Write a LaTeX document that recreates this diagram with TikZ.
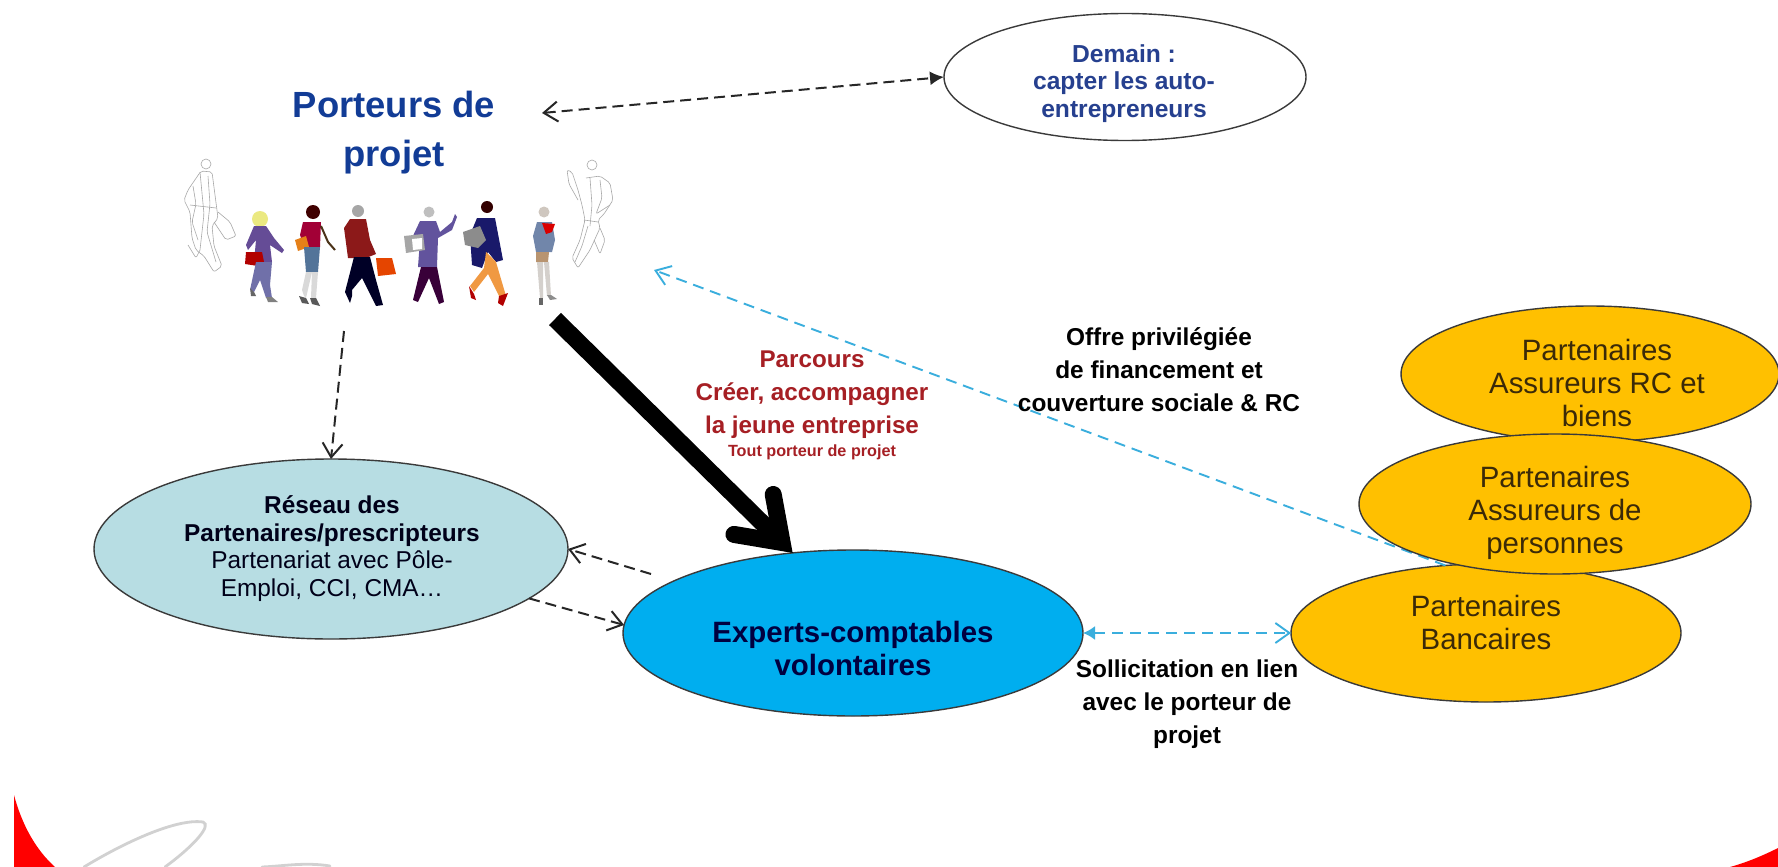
\documentclass[tikz,border=0pt]{standalone}
\usepackage{fontspec}
\setmainfont{Liberation Sans}
\usetikzlibrary{arrows.meta,shapes.geometric}
\definecolor{orangeF}{HTML}{FFC000}
\definecolor{blueF}{HTML}{00AEEF}
\definecolor{tealF}{HTML}{B7DDE3}
\definecolor{edgeD}{HTML}{3A3A3A}
\definecolor{cyanL}{HTML}{3AAEDD}
\definecolor{titleB}{HTML}{123C96}
\definecolor{demainB}{HTML}{26408F}
\definecolor{redT}{HTML}{A61F24}
\definecolor{brownT}{HTML}{3B2A08}
\definecolor{sketchG}{HTML}{A8A8A8}
\tikzset{
  x=0.5pt,y=-0.5pt,
  oval/.style={ellipse,draw=edgeD,line width=0.7pt,inner sep=0pt,outer sep=0pt},
  lab/.style={anchor=base,align=center,inner sep=0pt,outer sep=0pt},
  f12b/.style={font=\fontsize{12.2}{16.5}\selectfont\bfseries},
  f15/.style={font=\fontsize{14.7}{16.5}\selectfont},
  openTip/.tip={Straight Barb[length=7pt,width=10pt]},
  dashK/.style={draw=black!85,line width=1pt,dash pattern=on 5.5pt off 3pt},
  dashC/.style={draw=cyanL,line width=0.95pt,dash pattern=on 5.5pt off 3.5pt},
  sketch/.style={draw=sketchG,line width=0.3pt,line join=round,rounded corners=1pt},
  heavy/.style={draw=black,line width=8.5pt,
    -{Straight Barb[length=20pt,width=28pt,line cap=round,line join=miter]}},
}
\begin{document}
\begin{tikzpicture}
\useasboundingbox (0,0) rectangle (1778,867);
\fill[white] (0,0) rectangle (1778,867);

% corners of the slide
\fill[red] (14,795) .. controls (22,825) and (36,850) .. (55,867) -- (14,867) -- cycle;
\fill[red] (1730,867) .. controls (1748,862) and (1764,855) .. (1778,848) -- (1778,867) -- cycle;
\draw[black!18,line width=1.4pt,line cap=round] (84,867) .. controls (120,845) and (175,818) .. (203,822) .. controls (212,825) and (195,845) .. (165,867);
\draw[black!18,line width=1.4pt,line cap=round] (262,867) .. controls (285,866) and (305,862) .. (330,866);

% people
\begin{scope}
  % left sketch figure
  \draw[sketch] (206,164) circle[radius=5];
  \draw[sketch] (201,171) -- (188,190) -- (184,200) -- (190,212) -- (192,238) -- (196,250) -- (204,256) -- (214,272) -- (222,266) -- (214,246) -- (212,226) -- (218,218) -- (212,172) -- cycle;
  \draw[sketch] (218,212) -- (230,222) -- (236,236) -- (226,240) -- (214,222);
  \draw[sketch] (200,172) -- (204,214) -- (200,250);
  \draw[sketch] (190,205) -- (216,208);
  \draw[sketch] (193,186) -- (196,204) -- (192,222) -- (198,240);
  \draw[sketch] (208,176) -- (210,204) -- (207,232) -- (216,262);
  \draw[sketch] (188,245) -- (196,258) -- (200,250);
  % blonde woman
  \fill[brown!30!black!20!yellow!50!white] (260,219) circle[radius=8];
  \fill[violet!50!blue!55!black!70] (254,226) -- (266,226) -- (274,238) -- (284,250) -- (282,253) -- (270,245) -- (272,262) -- (254,262) -- (256,240) -- (248,250) -- (246,245) -- cycle;
  \fill[red!70!black] (246,252) -- (262,252) -- (264,262) -- (258,266) -- (245,264) -- cycle;
  \fill[blue!25!gray!90] (256,262) -- (272,262) -- (270,285) -- (272,298) -- (266,298) -- (260,280) -- (254,292) -- (250,290) -- cycle;
  \fill[black!60] (250,288) -- (254,292) -- (256,296) -- (251,296) -- cycle;
  \fill[black!50] (266,297) -- (272,297) -- (278,302) -- (268,302) -- cycle;
  % woman in pink
  \fill[black!75!red] (313,212) circle[radius=7];
  \fill[red!50!violet!85!black] (303,222) -- (321,222) -- (320,247) -- (304,247) -- (300,235) -- cycle;
  \fill[orange!60!brown] (295,240) -- (306,236) -- (309,247) -- (298,251) -- cycle;
  \fill[cyan!60!blue!60!black!90] (304,247) -- (320,247) -- (318,272) -- (306,272) -- cycle;
  \fill[black!15] (306,272) -- (312,272) -- (306,298) -- (304,296) -- (302,290) -- cycle;
  \fill[black!15] (312,272) -- (318,272) -- (316,298) -- (311,298) -- cycle;
  \fill[black!65] (299,296) -- (306,298) -- (309,304) -- (302,303) -- cycle;
  \fill[black!65] (310,298) -- (316,298) -- (320,306) -- (312,304) -- cycle;
  \draw[brown!40!black,line width=1pt] (321,226) -- (328,242) -- (335,250);
  % man in brown
  \fill[black!35] (358,211) circle[radius=6];
  \fill[red!50!black!90] (350,219) -- (366,219) -- (370,240) -- (376,254) -- (366,258) -- (348,258) -- (344,228) -- cycle;
  \fill[black!85!blue] (354,257) -- (370,257) -- (376,280) -- (383,305) -- (376,306) -- (362,278) -- (352,290) -- (352,296) -- (350,303) -- (345,292) -- cycle;
  \fill[orange!60!red!90!black] (376,258) -- (392,258) -- (396,274) -- (378,276) -- cycle;
  % man in purple
  \fill[black!25] (429,212) circle[radius=5.5];
  \fill[violet!35!blue!35!gray] (420,221) -- (436,221) -- (440,232) -- (452,222) -- (455,214) -- (457,217) -- (452,230) -- (438,238) -- (437,267) -- (418,267) -- (420,240) -- (412,238) -- cycle;
  \fill[black!35] (404,236) -- (423,234) -- (425,250) -- (406,253) -- cycle;
  \fill[white] (412,239) -- (422,238) -- (422,249) -- (413,250) -- cycle;
  \fill[black!55!violet] (421,267) -- (437,267) -- (444,302) -- (439,304) -- (429,278) -- (418,302) -- (413,300) -- cycle;
  % man with orange trousers
  \fill[black!80!red] (487,207) circle[radius=6];
  \fill[blue!35!black!90] (477,218) -- (495,218) -- (503,260) -- (496,262) -- (488,252) -- (482,268) -- (472,265) -- (470,235) -- cycle;
  \fill[black!45] (463,232) -- (480,226) -- (486,240) -- (478,248) -- (465,245) -- cycle;
  \fill[orange!70!brown!80!white] (486,252) -- (496,262) -- (506,296) -- (500,298) -- (488,274) -- (474,292) -- (470,286) -- (484,268) -- cycle;
  \fill[red!70!black] (469,286) -- (474,294) -- (476,300) -- (471,298) -- cycle;
  \fill[red!70!black] (499,296) -- (508,293) -- (503,306) -- (498,303) -- cycle;
  % woman in blue
  \fill[orange!25!black!25] (544,212) circle[radius=5.5];
  \fill[cyan!50!blue!60!black!70] (537,222) -- (552,222) -- (555,240) -- (552,252) -- (536,252) -- (533,236) -- cycle;
  \fill[red!85!black] (542,223) -- (555,224) -- (552,232) -- (546,234) -- cycle;
  \fill[brown!80!black!70] (536,252) -- (549,252) -- (548,262) -- (536,262) -- cycle;
  \fill[orange!15!black!20] (537,262) -- (543,262) -- (543,298) -- (540,298) -- cycle;
  \fill[orange!15!black!20] (544,262) -- (549,262) -- (551,296) -- (547,296) -- cycle;
  \fill[black!60] (539,298) -- (543,298) -- (543,305) -- (539,305) -- cycle;
  \fill[black!45] (547,295) -- (551,295) -- (557,299) -- (550,300) -- cycle;
  % right sketch figure
  \draw[sketch] (592,165) circle[radius=5];
  \draw[sketch] (586,178) -- (600,176) -- (610,183) -- (613,200) -- (604,214) -- (598,220) -- (600,228) -- (590,250) -- (578,268) -- (572,258) -- (580,240) -- (585,220) -- (582,205) -- (578,190) -- (572,172) -- (567,170) -- (569,184) -- (578,200);
  \draw[sketch] (600,228) -- (605,240) -- (600,254) -- (594,240);
  \draw[sketch] (590,178) -- (592,205) -- (590,226);
  \draw[sketch] (600,180) -- (602,198) -- (596,214) -- (610,205);
  \draw[sketch] (584,220) -- (598,222);
  \draw[sketch] (588,226) -- (582,246) -- (575,262);
\end{scope}

% partners
\node[oval,fill=orangeF,minimum width=189pt,minimum height=68pt] (rc) at (1590,374) {};
\node[oval,fill=orangeF,minimum width=195pt,minimum height=69pt] (banque) at (1486,633) {};
\coordinate (offreEnd) at (654,270);
\draw[dashC,-{openTip}] (banque.121) -- (offreEnd);
\node[oval,fill=orangeF,minimum width=196pt,minimum height=70pt] (personnes) at (1555,504) {};

\node[oval,fill=tealF,minimum width=237pt,minimum height=90pt] (reseau) at (331,549) {};
\node[oval,fill=blueF,minimum width=230pt,minimum height=83pt] (experts) at (853,633) {};
\node[oval,fill=white,minimum width=181pt,minimum height=63.5pt] (demain) at (1125,77) {};

% free ends
\coordinate (pA) at (542,113);
\coordinate (pB) at (344,331);
\coordinate (pC) at (555,319);
\coordinate (eA) at (651,574);

% connectors
\draw[dashK,{openTip}-{Latex[length=7pt,width=7pt]}] (pA) -- (demain.west);
\draw[dashK,-{openTip}] (pB) -- (reseau.north);
\draw[dashK,-{openTip}] (eA) -- (reseau.east);
\draw[dashK,-{openTip}] (reseau.-14) -- (experts.178);
\draw[dashC,{Latex[length=6pt,width=7pt]}-{openTip}] (experts.east) -- (banque.west);
\draw[heavy] (pC) -- (experts.127);

% texts
\node[lab,text=titleB,font=\fontsize{18.2}{24.5}\selectfont\bfseries] (tp) at (394,166) {Porteurs de\\projet};
\node[lab,text=demainB,font=\fontsize{12.3}{13.75}\selectfont\bfseries] (td) at (1124,117) {Demain :\\capter les auto-\\entrepreneurs};
\node[lab,text=black!90!blue,font=\fontsize{12.2}{13.75}\selectfont] (tr) at (332,596) {\textbf{Réseau des}\\\textbf{Partenaires/prescripteurs}\\Partenariat avec Pôle-\\Emploi, CCI, CMA…};
\node[lab,text=black!75!blue,font=\fontsize{14.7}{16.5}\selectfont\bfseries] (te) at (853,675) {Experts-comptables\\volontaires};
\node[lab,f12b,text=black] (ts) at (1187,743) {Sollicitation en lien\\avec le porteur de\\projet};
\node[lab,f12b,text=black] (to) at (1159,411) {Offre privilégiée\\de financement et\\couverture sociale \& RC};
\node[lab,text=redT,font=\fontsize{12.1}{16.5}\selectfont\bfseries] (tpa) at (812,433) {Parcours\\Créer, accompagner\\la jeune entreprise};
\node[lab,text=redT,font=\fontsize{8.1}{10}\selectfont\bfseries] (tpb) at (812,456) {Tout porteur de projet};
\node[lab,f15,text=brownT] (t1) at (1597,426) {Partenaires\\Assureurs RC et\\biens};
\node[lab,f15,text=brownT] (t2) at (1555,553) {Partenaires\\Assureurs de\\personnes};
\node[lab,f15,text=brownT] (t3) at (1486,649) {Partenaires\\Bancaires};
\end{tikzpicture}
\end{document}
